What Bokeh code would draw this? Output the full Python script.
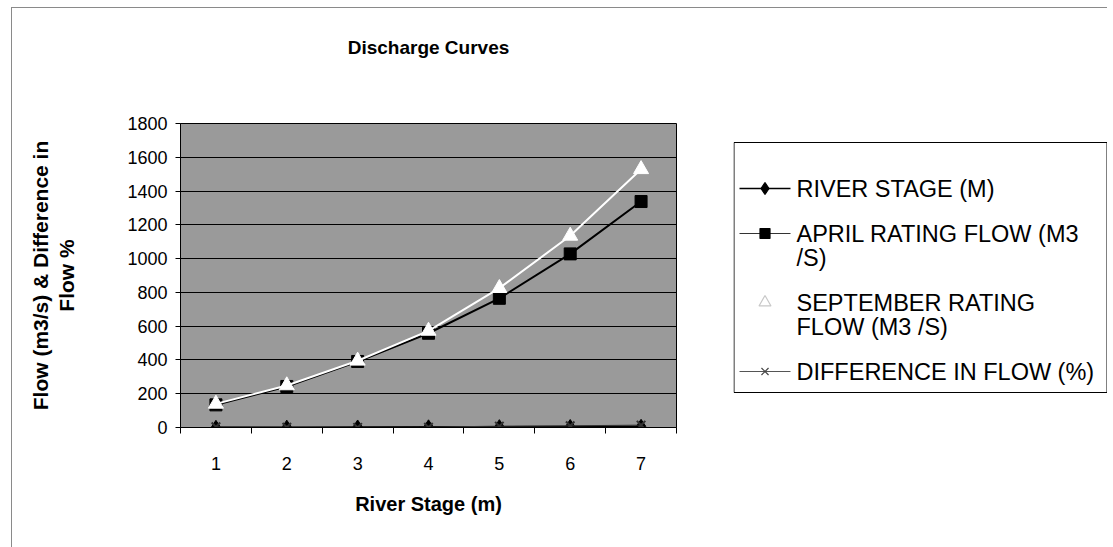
from bokeh.plotting import figure
from bokeh.layouts import row
from bokeh.models import FixedTicker, ColumnDataSource, Range1d, LinearAxis
from bokeh.core.properties import value
from bokeh.embed import file_html
from bokeh.resources import INLINE

# ---- data ----
stage = [1, 2, 3, 4, 5, 6, 7]
river_stage_m = [1, 2, 3, 4, 5, 6, 7]
april_flow = [134, 243, 391, 558, 765, 1028, 1338]
september_flow = [140, 249, 395, 572, 825, 1135, 1529]
difference_pct = [4, 2, 1, 2, 8, 10, 14]
y_ticks = [0, 200, 400, 600, 800, 1000, 1200, 1400, 1600, 1800]
series_labels = [
    "RIVER STAGE (M)",
    "APRIL RATING FLOW (M3\n/S)",
    "SEPTEMBER RATING\nFLOW (M3 /S)",
    "DIFFERENCE IN FLOW (%)",
]
series_markers = ["diamond", "square", "triangle", "x"]
title_text = "Discharge Curves"
x_label = "River Stage (m)"
y_label = "Flow (m3/s) & Difference in\nFlow %"

FONT = "Liberation Sans"
TOP, BOTTOM = 115, 121

# ---------------- main chart ----------------
p = figure(
    width=722, height=540,
    x_range=(stage[0] - 0.5, stage[-1] + 0.5),
    y_range=(y_ticks[0], y_ticks[-1]),
    output_backend="svg", toolbar_location=None,
    title_location=None,
    min_border_left=168, min_border_right=58,
    min_border_top=TOP, min_border_bottom=BOTTOM,
    background_fill_color="#9a9a9a",
    border_fill_color="white",
    outline_line_color="black",
    margin=(7, 0, 0, 11),
    styles={"border-left": "1px solid #8a8a8a", "border-top": "1px solid #8a8a8a"},
)

xa = p.xaxis[0]
ya = p.yaxis[0]

ya.ticker = FixedTicker(ticks=y_ticks)
ya.axis_label = y_label
xa.axis_label = x_label
minor_x = [s - 0.5 for s in stage] + [stage[-1] + 0.5]
xa.ticker = FixedTicker(ticks=stage, minor_ticks=minor_x)

for ax in (xa, ya):
    ax.axis_line_color = "black"
    ax.major_tick_line_color = "black"
    ax.major_label_text_font = FONT
    ax.major_label_text_font_size = "18px"
    ax.major_label_text_color = "black"
    ax.axis_label_text_font = FONT
    ax.axis_label_text_font_size = "20px"
    ax.axis_label_text_font_style = "bold"
    ax.axis_label_text_color = "black"

ya.axis_label_text_font_size = "21px"
ya.major_tick_out = 5
ya.major_tick_in = 0
ya.minor_tick_line_color = None
ya.major_label_standoff = 8
ya.axis_label_standoff = 46
ya.axis_label_text_line_height = 1.15

xa.major_tick_out = 0
xa.major_tick_in = 0
xa.minor_tick_out = 6
xa.minor_tick_in = 0
xa.minor_tick_line_color = "black"
xa.major_label_standoff = 23
xa.axis_label_standoff = 20

# title drawn as the label of a tick-less axis above the frame
tax = LinearAxis(ticker=FixedTicker(ticks=[]), axis_label=title_text,
                 axis_line_color=None, major_tick_line_color=None,
                 minor_tick_line_color=None, major_tick_out=0, major_tick_in=0,
                 major_label_text_font_size="0px",
                 axis_label_text_font=FONT, axis_label_text_font_size="19px",
                 axis_label_text_font_style="bold", axis_label_text_color="black",
                 axis_label_standoff=66)
p.add_layout(tax, "above")

p.xgrid.visible = False
p.ygrid.ticker = FixedTicker(ticks=y_ticks)
p.ygrid.grid_line_color = "black"
p.ygrid.grid_line_width = 1

src = ColumnDataSource(dict(x=stage, rs=river_stage_m, apr=april_flow,
                            sep=september_flow, dif=difference_pct))

p.line("x", "rs", source=src, line_color="black", line_width=1.5)
p.scatter("x", "rs", source=src, marker="diamond", size=14,
          fill_color="black", line_color="black")

p.line("x", "apr", source=src, line_color="black", line_width=2)
p.scatter("x", "apr", source=src, marker="square", size=12,
          fill_color="black", line_color="black")

p.line("x", "sep", source=src, line_color="white", line_width=2)
p.scatter("x", "sep", source=src, marker="triangle", size=15,
          fill_color="white", line_color="white")

p.line("x", "dif", source=src, line_color="#333333", line_width=1)
p.scatter("x", "dif", source=src, marker="x", size=12,
          line_color="#333333", line_width=2)

# ---------------- legend panel ----------------
FRAME_H = 540 - TOP - BOTTOM
leg = figure(
    width=374, height=540,
    x_range=Range1d(0, 374), y_range=Range1d(FRAME_H, 0),
    output_backend="svg", toolbar_location=None,
    x_axis_location=None, y_axis_location=None,
    min_border_left=0, min_border_right=0,
    min_border_top=TOP, min_border_bottom=BOTTOM,
    outline_line_color=None,
    background_fill_color="white", border_fill_color="white",
    margin=(7, 0, 0, 0),
    styles={"border-top": "1px solid #8a8a8a"},
)
leg.xgrid.visible = False
leg.ygrid.visible = False

box_top, box_bottom = 19, 269          # legend box, px below frame top
leg.quad(left=[0.5], right=[373.5], top=[box_top], bottom=[box_bottom],
         fill_color="white", line_color="black", line_width=1)

top_pad, line_step, item_gap = 46, 24, 21
text_x, g0, g1 = 63, 6, 57
txt_x, txt_y, txt = [], [], []
glyph_y = []
yy = box_top + top_pad
for lab in series_labels:
    glyph_y.append(yy)
    for ln in lab.split("\n"):
        txt_x.append(text_x)
        txt_y.append(yy)
        txt.append(ln)
        yy += line_step
    yy += item_gap

leg.text(txt_x, txt_y, txt, text_baseline="middle", text_align="left",
         text_font=value(FONT), text_font_size=value("23.5px"), text_color="black")

seg_colors = ["black", "#333333", None, "#555555"]
seg_widths = [1.5, 1.2, 1, 1]
mk_fill = ["black", "black", "white", None]
mk_line = ["black", "black", "#c8c8c8", "#444444"]
mk_size = [12, 10, 12, 10]
mid = (g0 + g1) / 2
for i, gy in enumerate(glyph_y):
    if seg_colors[i] is not None:
        leg.segment(x0=[g0], y0=[gy], x1=[g1], y1=[gy],
                    line_color=seg_colors[i], line_width=seg_widths[i])
    leg.scatter(x=[mid], y=[gy], marker=series_markers[i], size=mk_size[i],
                fill_color=mk_fill[i], line_color=mk_line[i], line_width=1.2)

layout = row(p, leg)
open("out.html", "w").write(file_html(layout, INLINE))
